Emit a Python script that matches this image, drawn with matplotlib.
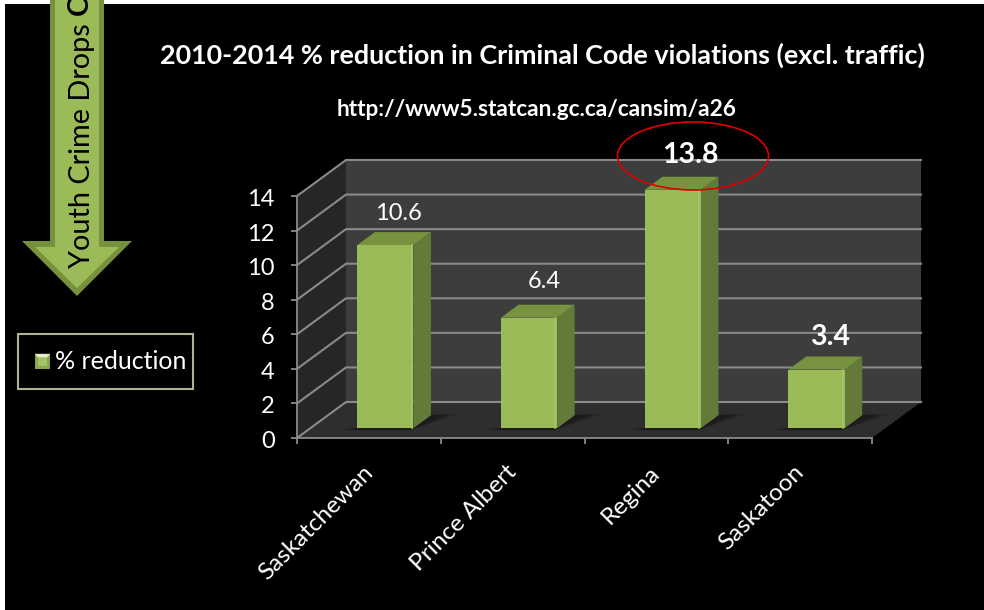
import matplotlib
matplotlib.use("Agg")
import matplotlib.pyplot as plt
from matplotlib.patches import Polygon, Rectangle, Ellipse, Patch
from matplotlib.legend_handler import HandlerBase
from matplotlib.transforms import ScaledTranslation

plt.rcParams['font.family'] = ['Lato', 'DejaVu Sans']

categories = ['Saskatchewan', 'Prince Albert', 'Regina', 'Saskatoon']
values = [10.6, 6.4, 13.8, 3.4]
value_labels = ['10.6', '6.4', '13.8', '3.4']
bold_labels = [False, False, True, True]
y_ticks = [0, 2, 4, 6, 8, 10, 12, 14]
series_name = '% reduction'
title = '2010-2014 % reduction in Criminal Code violations (excl. traffic)'
subtitle = 'http://www5.statcan.gc.ca/cansim/a26'
arrow_text = 'Youth Crime Drops '

W, H = 984, 610
fig = plt.figure(figsize=(W / 100, H / 100), dpi=100, facecolor='white')

# page-level layer in pixel coordinates
bg = fig.add_axes([0, 0, 1, 1], zorder=0)
bg.set_xlim(0, W); bg.set_ylim(H, 0); bg.axis('off')
bg.add_patch(Rectangle((5, 4), W - 5, H - 4, fc='black', ec='none'))

# chart axes: data coords are the front plane of the 3-D box
ax = fig.add_axes([297 / W, 1 - 438 / H, 575 / W, 242 / H], zorder=1)
ax.set_xlim(0, 4); ax.set_ylim(0, 14)
ax.patch.set_alpha(0)

DX, DY = 49 / 143.75, 36 / (242 / 14)      # depth vector, in data units


def P(x, y, d=0.0):
    return (x + d * DX, y + d * DY)


def face(pts, color, z=1, **kw):
    ax.add_patch(Polygon(pts, closed=True, fc=color, ec='none', zorder=z, clip_on=False, **kw))


xmax, ymax = 4, y_ticks[-1]
face([P(0, 0, 1), P(xmax, 0, 1), P(xmax, ymax, 1), P(0, ymax, 1)], '#3d3d3d')
face([P(0, 0), P(0, 0, 1), P(0, ymax, 1), P(0, ymax)], '#262626')
face([P(0, 0), P(xmax, 0), P(xmax, 0, 1), P(0, 0, 1)], '#2e2e2e')

GRID = '#8a8a8a'
for t in y_ticks:
    a, b, c = P(0, t), P(0, t, 1), P(xmax, t, 1)
    ax.plot([a[0], b[0], c[0]], [a[1], b[1], c[1]], color=GRID, lw=1.5, zorder=2,
            clip_on=False, solid_joinstyle='miter')

BAR_L, BAR_W = 0.327, 0.39
D0, D1 = 0.27, 0.63
label_lift_px = [19, 23, 22, 20]
label_shift_px = [0, 2, 4, 0]
for i, v in enumerate(values):
    x0, x1 = i + BAR_L, i + BAR_L + BAR_W
    base = 0
    z = 3 + i
    # soft floor shadow
    for k, alpha in enumerate([0.12, 0.15, 0.2]):
        g = 0.04 * (2 - k)
        face([P(x0 - 0.04 - g, base, D0 - 0.05), P(x1, base, D0 - 0.05),
              P(x1 + 0.10 + g, base, D1 + 0.02), P(x1 + 0.02, base, D1 + 0.02)],
             'black', z=z, alpha=alpha)
    face([P(x1, base, D0), P(x1, v, D0), P(x1, v, D1), P(x1, base, D1)], '#637a38', z=z)
    face([P(x0, v, D0), P(x1, v, D0), P(x1, v, D1), P(x0, v, D1)], '#77933f', z=z)
    face([P(x0, base, D0), P(x1, base, D0), P(x1, v, D0), P(x0, v, D0)], '#9bbb59', z=z)
    # bevel highlight along the right edge of the front face
    hl = P(x1 - 0.012, 0, D0), P(x1 - 0.012, v, D0)
    ax.plot([hl[0][0], hl[1][0]], [hl[0][1], hl[1][1]], color='#a5c463', lw=1.2, zorder=z,
            clip_on=False)
    tx, ty = P(i + BAR_L + BAR_W / 2, v, D1)
    ax.annotate(value_labels[i], (tx - 0.03, ty),
                xytext=(label_shift_px[i] * 0.72, label_lift_px[i] * 0.72),
                textcoords='offset points', ha='center', va='center', color='white',
                fontsize=20.5 if bold_labels[i] else 17,
                fontweight='bold' if bold_labels[i] else 'normal', zorder=10,
                annotation_clip=False)

ax.set_xticks(range(5))
ax.set_xticklabels([])
ax.set_yticks(y_ticks)
ax.tick_params(axis='y', colors='#8a8a8a', length=4.5, width=1.3, labelcolor='white',
               labelsize=17, pad=11.5)
ax.tick_params(axis='x', colors='#8a8a8a', length=4.5, width=1.3)
shift = ScaledTranslation(0, -1.5 / 100, fig.dpi_scale_trans)
for lab in ax.get_yticklabels():
    lab.set_transform(lab.get_transform() + shift)
for s in ('top', 'right'):
    ax.spines[s].set_visible(False)
for s in ('left', 'bottom'):
    ax.spines[s].set_color('#8a8a8a'); ax.spines[s].set_linewidth(1.3)
for i, c in enumerate(categories):
    ax.annotate(c, (i + 0.5, 0), xytext=(-5, -17), textcoords='offset points', rotation=45,
                ha='right', va='top', rotation_mode='anchor', color='white', fontsize=17.5,
                annotation_clip=False)

# overlay layer
top = fig.add_axes([0, 0, 1, 1], zorder=2)
top.set_xlim(0, W); top.set_ylim(H, 0); top.axis('off'); top.patch.set_alpha(0)

top.add_patch(Ellipse((693, 156), 151, 68, fc='none', ec='#e00000', lw=1.2))

# block arrow
top.add_patch(Polygon([(50, 0), (104, 0), (104, 241), (132, 241), (77, 296), (22, 241), (50, 241)],
                      closed=True, fc='#76923c', ec='none'))
top.add_patch(Polygon([(55, 0), (99, 0), (99, 247), (119, 247), (77, 288), (35, 247), (55, 247)],
                      closed=True, fc='#9bbb59', ec='none'))
top.text(82, 268, arrow_text, rotation=90, ha='left', va='center', rotation_mode='anchor',
         color='black', fontsize=20.8)
top.text(80, 15, 'C', rotation=90, ha='left', va='center', rotation_mode='anchor',
         color='black', fontsize=20.8, fontweight='bold')

top.text(542, 55, title, ha='center', va='center', color='white', fontsize=19.35, fontweight='bold')
top.text(537, 109, subtitle, ha='center', va='center', color='white', fontsize=16.3, fontweight='bold')


class BevelHandler(HandlerBase):
    def create_artists(self, legend, orig, x, y, w, h, fs, trans):
        s = 0.6 * fs
        x0, y0 = -x + w - s, -y + (h - s) / 2
        sq = [(x0, y0), (x0 + s, y0), (x0 + s, y0 + s), (x0, y0 + s)]
        return [Polygon(sq, fc='#8aa64e', ec='none', transform=trans),
                Polygon([sq[3], sq[2], (x0 + s * .8, y0 + s * .75), (x0 + s * .2, y0 + s * .75)],
                        fc='#e4efc6', ec='none', transform=trans),
                Polygon([(x0 + s * .2, y0 + s * .2), (x0 + s * .8, y0 + s * .2),
                         (x0 + s * .8, y0 + s * .75), (x0 + s * .2, y0 + s * .75)],
                        fc='#a4c263', ec='none', transform=trans)]


leg = fig.legend([Patch(color='#9bbb59')], [series_name], handler_map={Patch: BevelHandler()},
                 loc='upper left', bbox_to_anchor=(18 / W, 1 - 334 / H),
                 bbox_transform=fig.transFigure, borderaxespad=0, frameon=True, fancybox=False,
                 facecolor='black', edgecolor='#d6e3bc', labelcolor='white', fontsize=18,
                 handlelength=1.0, handleheight=2.12, handletextpad=0.2, borderpad=0.28)
leg.get_frame().set_linewidth(1.5)
leg.set_zorder(5)

fig.savefig('out.png', dpi=100, facecolor=fig.get_facecolor())
